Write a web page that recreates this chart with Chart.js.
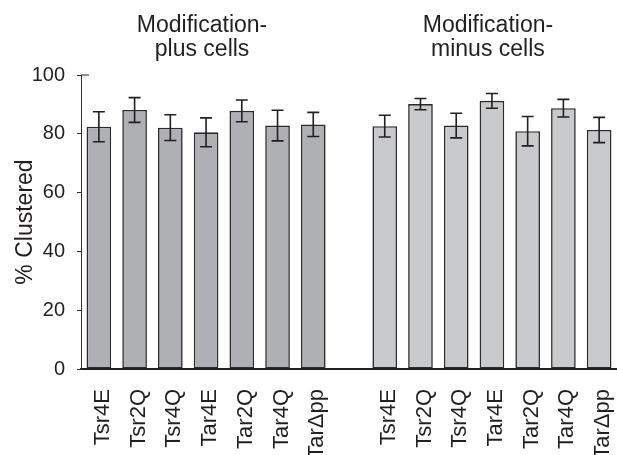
<!DOCTYPE html>
<html>
<head>
<meta charset="utf-8">
<script src="https://cdn.jsdelivr.net/npm/chart.js@4.4.0/dist/chart.umd.min.js"></script>
<style>
    html, body { margin: 0; padding: 0; background: #fff; overflow: hidden; }
    #wrap { width: 617px; height: 455px; position: relative; }
</style>
</head>
<body>
<div id="wrap"><canvas id="myChart"></canvas></div>
<script>
// values
const strains = ['Tsr4E', 'Tsr2Q', 'Tsr4Q', 'Tar4E', 'Tar2Q', 'Tar4Q', 'Tar\u0394pp'];
const plusValues = [82.4, 88.1, 82.1, 80.5, 87.8, 82.8, 83.2];
const plusErrors = [5.1, 4.2, 4.4, 4.9, 3.7, 5.2, 4.1];
const minusValues = [82.6, 90.1, 82.8, 91.2, 80.9, 88.7, 81.3];
const minusErrors = [3.7, 1.9, 4.2, 2.5, 5.0, 3.0, 4.3];
const groupTitles = [['Modification-', 'plus cells'], ['Modification-', 'minus cells']];
const yTicks = [0, 20, 40, 60, 80, 100];

const plusColor = '#afb0b3';
const minusColor = '#c9cacc';
const ink = '#231f20';
const font = '"Liberation Sans", Arial, Helvetica, sans-serif';

// one empty slot between the two groups
const labels = [...strains, '', ...strains];
const values = [...plusValues, null, ...minusValues];
const errors = [...plusErrors, null, ...minusErrors];
const colors = [...strains.map(() => plusColor), 'rgba(0,0,0,0)', ...strains.map(() => minusColor)];

const errorBars = {
    id: 'errorBars',
    afterDatasetsDraw(chart) {
        const ctx = chart.ctx;
        const meta = chart.getDatasetMeta(0);
        const y = chart.scales.y;
        ctx.save();
        ctx.strokeStyle = ink;
        ctx.lineWidth = 1.6;
        meta.data.forEach((bar, i) => {
            if (values[i] == null) return;
            const top = y.getPixelForValue(values[i] + errors[i]);
            const bot = y.getPixelForValue(values[i] - errors[i]);
            const x = bar.x;
            ctx.beginPath();
            ctx.moveTo(x, top); ctx.lineTo(x, bot);
            ctx.moveTo(x - 6, top); ctx.lineTo(x + 6, top);
            ctx.moveTo(x - 6, bot); ctx.lineTo(x + 6, bot);
            ctx.stroke();
        });
        // small inward mark at the top of the y axis
        const left = chart.chartArea.left;
        const yTop = y.getPixelForValue(100);
        ctx.lineWidth = 1;
        ctx.beginPath();
        ctx.moveTo(left, yTop); ctx.lineTo(left + 8, yTop);
        ctx.stroke();
        ctx.restore();
    }
};

const groupHeaders = {
    id: 'groupHeaders',
    afterDraw(chart) {
        const ctx = chart.ctx;
        const meta = chart.getDatasetMeta(0);
        const centers = [
            (meta.data[0].x + meta.data[6].x) / 2 - 4,
            (meta.data[8].x + meta.data[14].x) / 2 - 4
        ];
        ctx.save();
        ctx.fillStyle = ink;
        ctx.font = '23px ' + font;
        ctx.textAlign = 'center';
        ctx.textBaseline = 'alphabetic';
        groupTitles.forEach((lines, g) => {
            lines.forEach((line, k) => {
                ctx.fillText(line, centers[g], 32 + k * 24);
            });
        });
        ctx.restore();
    }
};

const ctx = document.getElementById('myChart').getContext('2d');

new Chart(ctx, {
    type: 'bar',
    data: {
        labels: labels,
        datasets: [{
            data: values,
            backgroundColor: colors,
            borderColor: '#2b2b2b',
            borderWidth: 1.6,
            borderSkipped: false,
            categoryPercentage: 1,
            barPercentage: 0.69
        }]
    },
    options: {
        responsive: true,
        maintainAspectRatio: false,
        animation: false,
        layout: {
            padding: { top: 75, right: 0, bottom: 0, left: 0 }
        },
        plugins: {
            legend: { display: false },
            tooltip: { enabled: false }
        },
        scales: {
            x: {
                grid: { display: false, drawTicks: false },
                border: { display: true, color: ink, width: 2 },
                ticks: {
                    color: ink,
                    font: { family: font, size: 22 },
                    minRotation: 90,
                    maxRotation: 90,
                    autoSkip: false,
                    padding: 20,
                    labelOffset: 4
                },
                afterFit(scale) {
                    scale.height = 86;
                    scale.paddingLeft = 0;
                    scale.paddingRight = 0;
                }
            },
            y: {
                min: 0,
                max: 100,
                afterBuildTicks(scale) {
                    scale.ticks = yTicks.map(v => ({ value: v }));
                },
                grid: { drawOnChartArea: false, drawTicks: true, tickLength: 4, color: '#333' },
                border: { display: true, color: '#333', width: 1 },
                ticks: {
                    color: ink,
                    font: { family: font, size: 20 },
                    padding: 12
                },
                title: {
                    display: true,
                    text: '% Clustered',
                    color: ink,
                    font: { family: font, size: 23 },
                    padding: { top: 12, bottom: 0 }
                },
                afterFit(scale) { scale.width = 81; }
            }
        }
    },
    plugins: [errorBars, groupHeaders]
});
</script>
</body>
</html>
